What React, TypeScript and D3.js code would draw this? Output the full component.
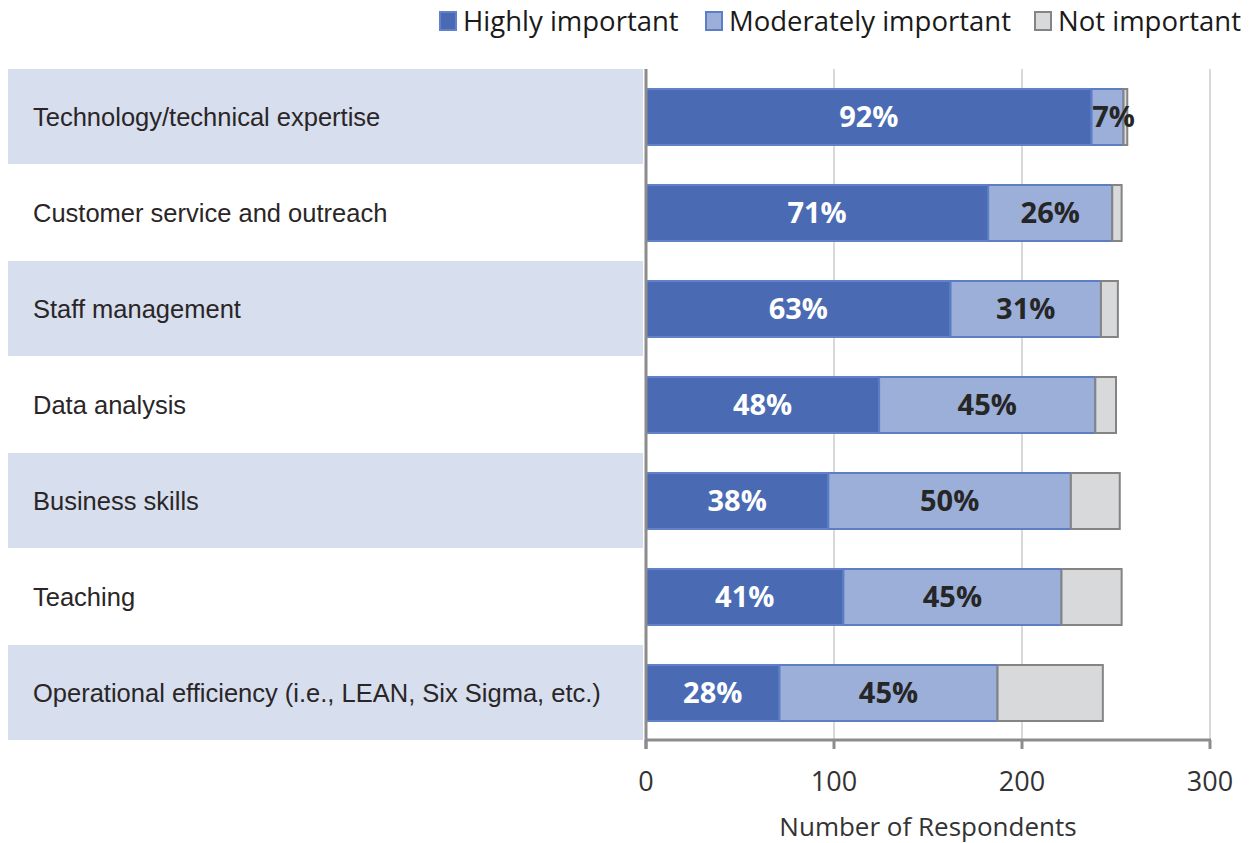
import React from "react";
import * as d3 from "d3";

const categories = [
  "Technology/technical expertise",
  "Customer service and outreach",
  "Staff management",
  "Data analysis",
  "Business skills",
  "Teaching",
  "Operational efficiency (i.e., LEAN, Six Sigma, etc.)",
];
const highly = [237, 182, 162, 124, 97, 105, 71];
const moderately = [17, 66, 80, 115, 129, 116, 116];
const notImportant = [2, 5, 9, 11, 26, 32, 56];
const highlyLabels = ["92%", "71%", "63%", "48%", "38%", "41%", "28%"];
const moderatelyLabels = ["7%", "26%", "31%", "45%", "50%", "45%", "45%"];
const seriesNames = ["Highly important", "Moderately important", "Not important"];
const xTicks = [0, 100, 200, 300];
const axisTitle = "Number of Respondents";

const W = 1251;
const H = 843;
const fills = ["#4a6bb4", "#9cafd9", "#d8d9db"];
const strokes = ["#6182cb", "#5d7dc6", "#848484"];

export default function App() {
  const x = d3.scaleLinear().domain([0, 300]).range([646, 1210]);
  const rows = d3.scaleBand<string>().domain(categories).range([69, 741]).padding(0);
  const y = d3
    .scaleBand<string>()
    .domain(categories)
    .range([69, 741])
    .paddingInner(40 / 96)
    .paddingOuter(20 / 96);

  const table = categories.map((c, i) => ({
    cat: c,
    h: highly[i],
    m: moderately[i],
    n: notImportant[i],
  }));
  const stack = d3.stack<any>().keys(["h", "m", "n"]);
  const series = stack(table);
  const labelSets = [highlyLabels, moderatelyLabels, null];
  const labelColors = ["#ffffff", "#262626"];

  const legendX = [440, 706, 1035];

  return (
    <svg
      width={W}
      height={H}
      style={{ position: "absolute", left: 0, top: 0, background: "#fff" }}
    >
      {/* row shading + labels */}
      {categories.map((c, i) => (
        <g key={c}>
          {i % 2 === 0 && (
            <rect x={8} y={rows(c)!} width={635} height={rows.bandwidth() - 1} fill="#d7deed" />
          )}
          <text
            x={33}
            y={rows(c)! + rows.bandwidth() / 2 + 9}
            fontFamily="Liberation Sans, Arial, sans-serif"
            fontSize={25.5}
            fill="#2a2627"
          >
            {c}
          </text>
        </g>
      ))}

      {/* gridlines */}
      {xTicks.slice(1).map((t) => (
        <line key={t} x1={x(t)} x2={x(t)} y1={69} y2={740} stroke="#d9d9d9" strokeWidth={2} />
      ))}

      {/* bars */}
      {series.map((s, si) => (
        <g key={si}>
          {s.map((d, i) => (
            <rect
              key={i}
              x={x(d[0])}
              y={y(categories[i])!}
              width={x(d[1]) - x(d[0])}
              height={y.bandwidth()}
              fill={fills[si]}
              stroke={strokes[si]}
              strokeWidth={2}
            />
          ))}
        </g>
      ))}

      {/* bar labels */}
      {series.map((s, si) =>
        labelSets[si]
          ? s.map((d, i) => (
              <text
                key={`${si}-${i}`}
                x={(x(d[0]) + x(d[1])) / 2 + (si === 1 && i === 0 ? 6 : 0)}
                y={y(categories[i])! + y.bandwidth() / 2 + 10}
                textAnchor="middle"
                fontFamily="Open Sans, sans-serif"
                fontWeight={700}
                fontSize={29}
                fill={labelColors[si]}
              >
                {labelSets[si]![i]}
              </text>
            ))
          : null
      )}

      {/* axes */}
      <line x1={646} x2={646} y1={69} y2={749} stroke="#8c8c8c" strokeWidth={3} />
      <line x1={645} x2={1211} y1={740} y2={740} stroke="#8c8c8c" strokeWidth={3} />
      {xTicks.map((t) => (
        <g key={t}>
          <line x1={x(t)} x2={x(t)} y1={740} y2={749} stroke="#8c8c8c" strokeWidth={3} />
          <text
            x={x(t)}
            y={791}
            textAnchor="middle"
            fontFamily="Open Sans, sans-serif"
            fontSize={27}
            fill="#333"
          >
            {t}
          </text>
        </g>
      ))}
      <text
        x={928}
        y={836}
        textAnchor="middle"
        fontFamily="Open Sans, sans-serif"
        fontSize={26}
        fill="#333"
      >
        {axisTitle}
      </text>

      {/* legend */}
      {seriesNames.map((n, i) => (
        <g key={n}>
          <rect
            x={legendX[i]}
            y={12}
            width={16}
            height={18}
            fill={fills[i]}
            stroke={strokes[i]}
            strokeWidth={2}
          />
          <text
            x={legendX[i] + 23}
            y={31}
            fontFamily="Open Sans, sans-serif"
            fontSize={27.5}
            fill="#1a1a1a"
          >
            {n}
          </text>
        </g>
      ))}
    </svg>
  );
}
